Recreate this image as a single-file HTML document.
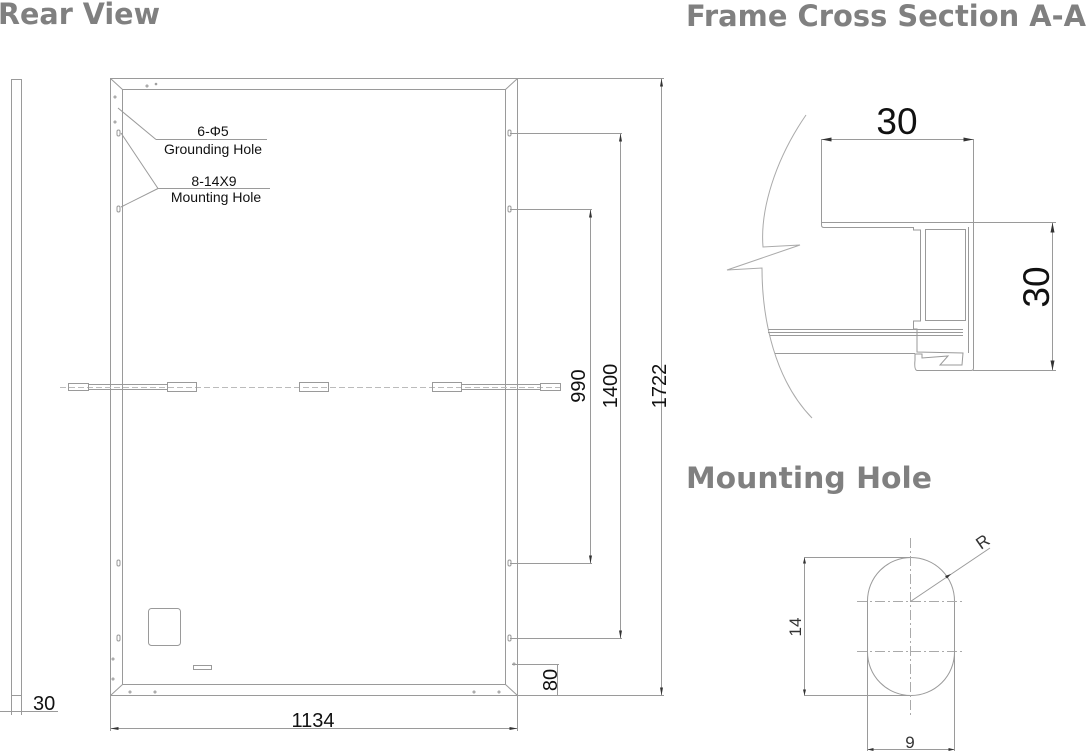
<!DOCTYPE html>
<html><head><style>
html,body{margin:0;padding:0;background:#fff;}
svg{display:block;}
text{font-family:"Liberation Sans",sans-serif;}
.t{font-family:"DejaVu Sans","Liberation Sans",sans-serif;font-weight:bold;fill:#808080;}
</style></head><body>
<svg width="1086" height="752" viewBox="0 0 1086 752" xmlns="http://www.w3.org/2000/svg">
<g fill="none" stroke="#9a9a9a" stroke-width="1">
<!-- side strip -->
<rect x="11.5" y="79.5" width="10" height="616"/>
<line x1="0" y1="711.5" x2="58" y2="711.5"/>
<line x1="11.5" y1="695" x2="11.5" y2="715"/>
<line x1="21.5" y1="695" x2="21.5" y2="715"/>
<!-- panel -->
<rect x="110.5" y="78.5" width="407" height="617"/>
<rect x="122.5" y="89.5" width="383" height="595"/>
<line x1="110.5" y1="78.5" x2="122.5" y2="89.5"/>
<line x1="517.5" y1="78.5" x2="505.5" y2="89.5"/>
<line x1="110.5" y1="695.5" x2="122.5" y2="684.5"/>
<line x1="517.5" y1="695.5" x2="505.5" y2="684.5"/>
<!-- mounting holes -->
<rect x="117" y="130" width="3" height="6" rx="1.5"/>
<rect x="117" y="206" width="3" height="6" rx="1.5"/>
<rect x="117" y="560" width="3" height="6" rx="1.5"/>
<rect x="117" y="635" width="3" height="6" rx="1.5"/>
<rect x="508" y="130" width="3" height="6" rx="1.5"/>
<rect x="508" y="206" width="3" height="6" rx="1.5"/>
<rect x="508" y="560" width="3" height="6" rx="1.5"/>
<rect x="508" y="635" width="3" height="6" rx="1.5"/>
<!-- small grounding marks -->
<circle cx="115" cy="97" r="1"/><circle cx="115" cy="122" r="1"/>
<circle cx="147" cy="86" r="1"/><circle cx="156" cy="84" r="0.8"/>
<circle cx="113" cy="659" r="1"/><circle cx="113" cy="679" r="1"/>
<circle cx="130" cy="692" r="1"/><circle cx="155" cy="692" r="1"/>
<circle cx="514" cy="664" r="1"/><circle cx="474" cy="692" r="1"/><circle cx="499" cy="692" r="1"/>
<!-- leaders -->
<line x1="118" y1="108" x2="156" y2="139.5"/>
<line x1="156" y1="139.5" x2="267" y2="139.5"/>
<line x1="121" y1="133" x2="158" y2="188.5"/>
<line x1="121" y1="207" x2="158" y2="188.5"/>
<line x1="158" y1="188.5" x2="270" y2="188.5"/>
<!-- junction / cables -->
<line x1="60" y1="387.5" x2="562" y2="387.5" stroke-dasharray="6,3" stroke="#bbb"/>
<line x1="88" y1="384.5" x2="167" y2="384.5"/><line x1="88" y1="389.5" x2="167" y2="389.5"/>
<line x1="461" y1="384.5" x2="540" y2="384.5"/><line x1="461" y1="389.5" x2="540" y2="389.5"/>
<rect x="68.5" y="383.5" width="20" height="7"/>
<rect x="167.5" y="382.5" width="29" height="9"/>
<rect x="299.5" y="382.5" width="29" height="9"/>
<rect x="432.5" y="382.5" width="29" height="9"/>
<rect x="540.5" y="383.5" width="20" height="7"/>
<rect x="148.5" y="608.5" width="32" height="37" rx="3"/>
<rect x="193.5" y="665.5" width="18" height="4"/>
<!-- dims right -->
<line x1="517" y1="78.5" x2="664" y2="78.5"/>
<line x1="517" y1="695.5" x2="664" y2="695.5"/>
<line x1="661.5" y1="78.5" x2="661.5" y2="695.5"/>
<line x1="510" y1="133.5" x2="622" y2="133.5"/>
<line x1="510" y1="638.5" x2="622" y2="638.5"/>
<line x1="620.5" y1="133.5" x2="620.5" y2="638.5"/>
<line x1="510" y1="209.5" x2="592" y2="209.5"/>
<line x1="510" y1="563.5" x2="592" y2="563.5"/>
<line x1="590.5" y1="209.5" x2="590.5" y2="563.5"/>
<line x1="512" y1="664.5" x2="559" y2="664.5"/>
<line x1="557.5" y1="664.5" x2="557.5" y2="695.5"/>
<!-- dim bottom -->
<line x1="110.5" y1="695" x2="110.5" y2="731"/>
<line x1="517.5" y1="695" x2="517.5" y2="731"/>
<line x1="110.5" y1="728.5" x2="517.5" y2="728.5"/>
<!-- cross section -->
<path d="M806,115 C775,160 760,210 763,247 L800,245 L727,270 L762,268 C762,320 775,380 812,418" stroke="#aaa"/>
<line x1="821.5" y1="139.5" x2="973.5" y2="139.5"/>
<line x1="821.5" y1="139" x2="821.5" y2="222"/>
<line x1="973.5" y1="139" x2="973.5" y2="222"/>
<path d="M821.5,222.5 L973.5,222.5 L973.5,368 Q973.5,370.5 971,370.5 L917,370.5 Q914,370 915,360 L915,354 L922,354 L922,358 L948,356 L940,365 L962,365 L963,353 L917,352 L917,329 L913.5,329 L913.5,321 L920.5,321 L920.5,230 L913.5,230 L913.5,227.5 L824,227.5 Q821.5,227.5 821.5,225 Z"/>
<rect x="925.5" y="229.5" width="40" height="91"/>
<line x1="968.5" y1="227" x2="968.5" y2="353"/>
<line x1="768" y1="329.5" x2="963" y2="329.5"/>
<line x1="768" y1="332.5" x2="963" y2="332.5"/>
<line x1="770" y1="335.5" x2="963" y2="335.5"/>
<line x1="775" y1="353.5" x2="915" y2="353.5"/>
<line x1="973" y1="222.5" x2="1056" y2="222.5"/>
<line x1="973" y1="370.5" x2="1056" y2="370.5"/>
<line x1="1052.5" y1="222.5" x2="1052.5" y2="370.5"/>
<!-- mounting hole -->
<rect x="867.5" y="557.5" width="87" height="138" rx="43.5"/>
<g stroke="#aaa" stroke-dasharray="10,3,2,3">
<line x1="910.5" y1="538" x2="910.5" y2="715"/>
<line x1="857" y1="601.5" x2="965" y2="601.5"/>
<line x1="857" y1="651.5" x2="965" y2="651.5"/>
</g>
<line x1="910.5" y1="601.5" x2="990" y2="548"/>
<line x1="804" y1="557.5" x2="910" y2="557.5"/>
<line x1="804" y1="695.5" x2="910" y2="695.5"/>
<line x1="804.5" y1="557.5" x2="804.5" y2="695.5"/>
<line x1="867.5" y1="651" x2="867.5" y2="751"/>
<line x1="954.5" y1="651" x2="954.5" y2="751"/>
<line x1="867.5" y1="749.5" x2="954.5" y2="749.5"/>
</g>
<!-- arrowheads -->
<g fill="#333">
<path d="M821.5,139.5 l10,-2 v4z"/><path d="M973.5,139.5 l-10,-2 v4z"/>
<path d="M1052.5,222.5 l-2,10 h4z"/><path d="M1052.5,370.5 l-2,-10 h4z"/>
<path d="M110.5,728.5 l8,-1.5 v3z"/><path d="M517.5,728.5 l-8,-1.5 v3z"/>
<path d="M661.5,78.5 l-1.5,8 h3z"/><path d="M661.5,695.5 l-1.5,-8 h3z"/>
<path d="M620.5,133.5 l-1.5,8 h3z"/><path d="M620.5,638.5 l-1.5,-8 h3z"/>
<path d="M590.5,209.5 l-1.5,8 h3z"/><path d="M590.5,563.5 l-1.5,-8 h3z"/>
<path d="M804.5,557.5 l-1.5,6 h3z"/><path d="M804.5,695.5 l-1.5,-6 h3z"/>
<path d="M867.5,749.5 l6,-1.5 v3z"/><path d="M954.5,749.5 l-6,-1.5 v3z"/>
<path d="M951,574 l-6,2 2,2.5z"/>
</g>
<!-- titles -->
<text class="t" x="-2" y="24" font-size="29" textLength="162" lengthAdjust="spacingAndGlyphs">Rear View</text>
<text class="t" x="686" y="26" font-size="29" textLength="400" lengthAdjust="spacingAndGlyphs">Frame Cross Section A-A</text>
<text class="t" x="686" y="488" font-size="29" textLength="246" lengthAdjust="spacingAndGlyphs">Mounting Hole</text>
<!-- labels -->
<g fill="#111" font-size="14">
<text x="213" y="136" text-anchor="middle">6-Φ5</text>
<text x="213" y="154" text-anchor="middle">Grounding Hole</text>
<text x="214" y="186" text-anchor="middle">8-14X9</text>
<text x="216" y="202" text-anchor="middle">Mounting Hole</text>
</g>
<g fill="#111" font-size="20">
<text x="33" y="710">30</text>
<text x="313" y="727" text-anchor="middle">1134</text>
<text transform="translate(666,386) rotate(-90)" text-anchor="middle">1722</text>
<text transform="translate(617,386) rotate(-90)" text-anchor="middle">1400</text>
<text transform="translate(585,386) rotate(-90)" text-anchor="middle">990</text>
<text transform="translate(557,680) rotate(-90)" text-anchor="middle">80</text>
</g>
<text x="897" y="134" font-size="37" fill="#111" text-anchor="middle">30</text>
<text transform="translate(1049,287) rotate(-90)" font-size="37" fill="#111" text-anchor="middle">30</text>
<g fill="#333" font-size="17">
<text transform="translate(801,627) rotate(-90)" text-anchor="middle">14</text>
<text x="910" y="748" text-anchor="middle">9</text>
<text transform="translate(981,550) rotate(-35)">R</text>
</g>
</svg>
</body></html>
